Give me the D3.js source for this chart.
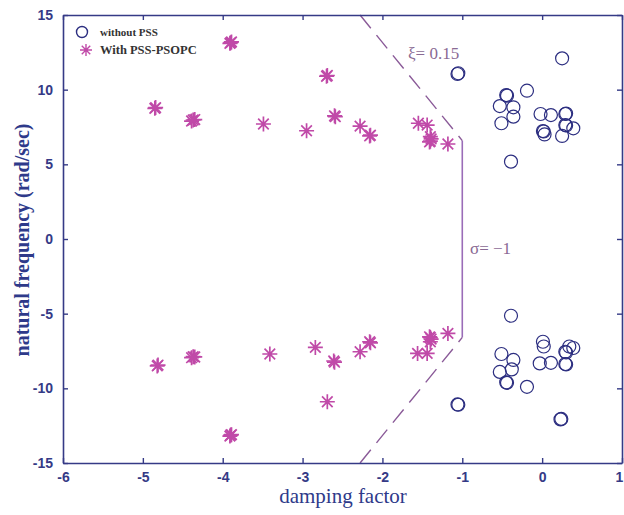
<!DOCTYPE html>
<html>
<head>
<meta charset="utf-8">
<script src="https://cdn.jsdelivr.net/npm/d3@7"></script>
<style>
  body { margin: 0; background: #fff; }
  text { font-family: "Liberation Serif", "Times New Roman", serif; }
</style>
</head>
<body>
<svg width="624" height="515"></svg>
<script>
// Eigenvalues without PSS (damping factor, natural frequency)
var noPssX = [0.25, -1.06, -1.05, -0.19, -0.45, -0.44, -0.53, -0.36, -0.36, -0.51, -0.02, 0.11, 0.29, 0.30, 0.29, 0.30, 0.39, 0.01, 0.02, 0.03, 0.25, -0.39,
              -0.39, 0.01, 0.02, 0.34, 0.39, 0.29, 0.30, -0.51, -0.36, -0.03, 0.11, 0.29, 0.30, -0.38, -0.53, -0.44, -0.45, -0.19, -1.06, -1.05, 0.23, 0.24];
var noPssY = [12.1, 11.05, 11.1, 9.93, 9.64, 9.6, 8.9, 8.82, 8.19, 7.75, 8.37, 8.3, 8.37, 8.4, 7.63, 7.6, 7.41, 7.23, 7.2, 7.0, 6.9, 5.18,
              -5.14, -6.88, -7.2, -7.2, -7.3, -7.55, -7.6, -7.7, -8.1, -8.33, -8.29, -8.37, -8.4, -8.73, -8.9, -9.63, -9.6, -9.9, -11.08, -11.1, -12.08, -12.05];

// Eigenvalues with PSS-PSOPC
var psoX = [-3.9, -3.89, -3.91, -4.85, -4.84, -4.37, -4.35, -4.39, -3.49, -2.95, -2.70, -2.69, -2.59, -2.60, -2.28, -2.16, -2.15, -1.55, -1.44, -1.40, -1.41, -1.40, -1.39, -1.18,
            -4.81, -4.82, -4.37, -4.35, -4.39, -3.9, -3.89, -3.91, -3.41, -2.84, -2.61, -2.60, -2.69, -2.28, -2.16, -2.15, -1.56, -1.44, -1.41, -1.40, -1.39, -1.40, -1.18];
var psoY = [13.15, 13.2, 13.1, 8.75, 8.8, 7.97, 8.0, 7.9, 7.7, 7.25, 10.9, 10.95, 8.19, 8.25, 7.56, 6.9, 6.95, 7.75, 7.63, 6.85, 6.5, 6.55, 6.7, 6.36,
            -8.44, -8.5, -7.88, -7.9, -7.95, -13.13, -13.1, -13.2, -7.7, -7.26, -8.17, -8.25, -10.9, -7.55, -6.88, -6.95, -7.66, -7.66, -6.55, -6.88, -6.7, -6.6, -6.32];

// Boundary: xi = 0.15 lines and sigma = -1
var xiX = [-2.28, -1.0];
var xiY = [15, 6.59];
var sigmaX = -1;

var xTicks = [-6, -5, -4, -3, -2, -1, 0, 1];
var yTicks = [-15, -10, -5, 0, 5, 10, 15];

var svg = d3.select("svg");
var axisColor = "#353a86";

var x = d3.scaleLinear().domain([-6, 1]).range([63, 622]);
var y = d3.scaleLinear().domain([-15, 15]).range([463, 15]);

// boundary lines
var lineG = svg.append("g");
[1, -1].forEach(function (s) {
  lineG.append("line")
    .attr("x1", x(xiX[0])).attr("y1", y(s * xiY[0]))
    .attr("x2", x(xiX[1])).attr("y2", y(s * xiY[1]))
    .attr("stroke", "#8a5a98")
    .attr("stroke-width", 1.4)
    .attr("stroke-dasharray", "17,9");
});
lineG.append("line")
  .attr("x1", x(sigmaX)).attr("y1", y(xiY[1]))
  .attr("x2", x(sigmaX)).attr("y2", y(-xiY[1]))
  .attr("stroke", "#9a6cb8")
  .attr("stroke-width", 1.6);

svg.append("text")
  .attr("x", 408).attr("y", 59)
  .style("font-size", "17px")
  .attr("fill", "#8a6a94")
  .text("ξ= 0.15");
svg.append("text")
  .attr("x", 470).attr("y", 254)
  .style("font-size", "17px")
  .attr("fill", "#8a6a94")
  .text("σ= −1");

// markers
var starPath = function (r) {
  var d = r * Math.SQRT1_2;
  return "M" + -r + ",0L" + r + ",0M0," + -r + "L0," + r +
    "M" + -d + "," + -d + "L" + d + "," + d + "M" + -d + "," + d + "L" + d + "," + -d;
};

svg.append("g")
  .selectAll("circle")
  .data(noPssX)
  .enter()
  .append("circle")
  .attr("cx", function (d) { return x(d); })
  .attr("cy", function (d, i) { return y(noPssY[i]); })
  .attr("r", 6.5)
  .attr("fill", "none")
  .attr("stroke", "#2c2e80")
  .attr("stroke-width", 1.2);

svg.append("g")
  .selectAll("path")
  .data(psoX)
  .enter()
  .append("path")
  .attr("transform", function (d, i) { return "translate(" + x(d) + "," + y(psoY[i]) + ")"; })
  .attr("d", starPath(7.5))
  .attr("stroke", "#c04aa8")
  .attr("stroke-width", 1.7);

// axes, MATLAB-style box with inward ticks
var fmt = function (d) { return String(d); };
var gx = svg.append("g").attr("transform", "translate(0,463)")
  .call(d3.axisBottom(x).tickValues(xTicks).tickFormat(fmt).tickSizeInner(-5).tickSizeOuter(0).tickPadding(9));
var gxt = svg.append("g").attr("transform", "translate(0,15)")
  .call(d3.axisTop(x).tickValues(xTicks).tickFormat("").tickSizeInner(-5).tickSizeOuter(0));
var gy = svg.append("g").attr("transform", "translate(63,0)")
  .call(d3.axisLeft(y).tickValues(yTicks).tickFormat(fmt).tickSizeInner(-5).tickSizeOuter(0).tickPadding(8));
var gyr = svg.append("g").attr("transform", "translate(622,0)")
  .call(d3.axisRight(y).tickValues(yTicks).tickFormat("").tickSizeInner(-5).tickSizeOuter(0));

[gx, gxt, gy, gyr].forEach(function (g) {
  g.select(".domain").attr("stroke", axisColor).attr("stroke-width", 1.6);
  g.selectAll(".tick line").attr("stroke", axisColor).attr("stroke-width", 1.4);
  g.selectAll(".tick text")
    .attr("fill", axisColor)
    .style("font-family", "'Liberation Sans', Arial, sans-serif")
    .style("font-size", "14px")
    .style("font-weight", "bold");
});
gy.selectAll(".tick text").attr("dx", "-2");
// last x label sits right at the edge, as in the original
gx.selectAll(".tick text").filter(function (d) { return d === 1; }).attr("dx", "-3");

// axis titles
svg.append("text")
  .attr("x", 343).attr("y", 503)
  .attr("text-anchor", "middle")
  .style("font-size", "21px")
  .attr("fill", "#2e3a8a")
  .text("damping factor");
svg.append("text")
  .attr("transform", "translate(29,240) rotate(-90)")
  .attr("text-anchor", "middle")
  .style("font-size", "20px")
  .style("font-weight", "bold")
  .attr("fill", "#2e3a8a")
  .text("natural frequency (rad/sec)");

// legend
var leg = svg.append("g");
leg.append("circle")
  .attr("cx", 82).attr("cy", 32).attr("r", 5.5)
  .attr("fill", "none").attr("stroke", "#2c2e80").attr("stroke-width", 1.4);
leg.append("path")
  .attr("transform", "translate(86,50)")
  .attr("d", starPath(6))
  .attr("stroke", "#c04aa8").attr("stroke-width", 1.4);
leg.append("text")
  .attr("x", 100).attr("y", 36)
  .style("font-size", "11px").style("font-weight", "bold")
  .attr("fill", "#333")
  .text("without PSS");
leg.append("text")
  .attr("x", 100).attr("y", 54)
  .style("font-size", "12.5px").style("font-weight", "bold")
  .attr("fill", "#333")
  .text("With PSS-PSOPC");
</script>
</body>
</html>
